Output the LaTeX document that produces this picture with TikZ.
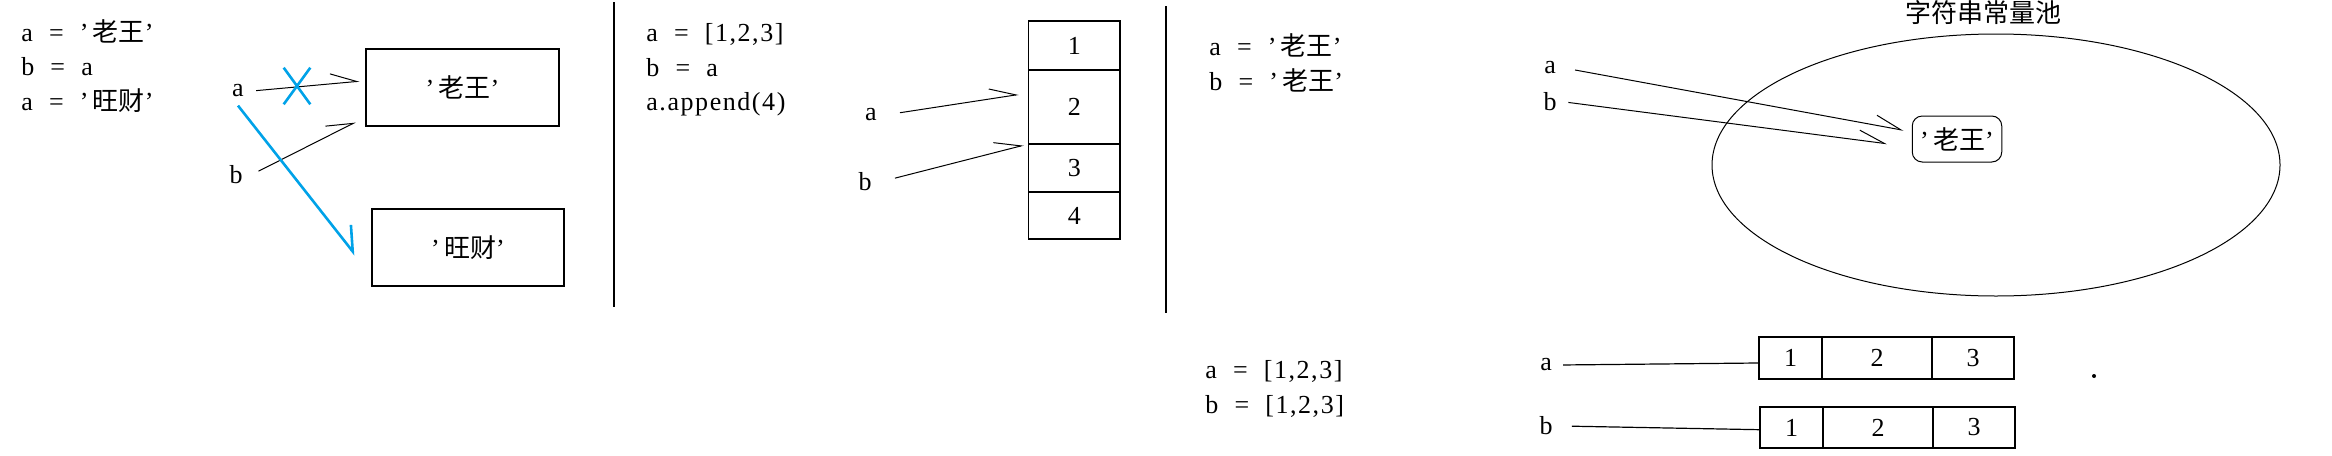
\documentclass[tikz,border=0pt]{standalone}
\usepackage{fontspec}
\setmainfont{Liberation Serif}
\newfontfamily\codefont{Liberation Serif}[WordSpace=2.0, LetterSpace=6.0]
\newfontfamily\cjk{Noto Sans CJK SC}
\usetikzlibrary{positioning, shapes.geometric, shapes.misc, arrows.meta}

\definecolor{paintblue}{RGB}{0,162,232}

\tikzset{
    code/.style={anchor=base west, inner sep=0pt, font=\codefont\fontsize{13pt}{16pt}\selectfont},
    var/.style={inner sep=4pt, font=\fontsize{13pt}{16pt}\selectfont},
    strbox/.style={draw, line width=0.6pt, minimum width=96.5pt, minimum height=38.5pt, font=\fontsize{13pt}{16pt}\selectfont},
    cell/.style={draw, line width=0.6pt, inner sep=0pt, outer sep=0pt, font=\fontsize{13pt}{16pt}\selectfont},
    ptr/.style={line width=0.5pt, -{Straight Barb[harpoon, length=13pt, width=10pt]}},
    blueptr/.style={draw=paintblue, line width=1.3pt, -{Straight Barb[harpoon, length=11pt, width=15pt]}},
}

\begin{document}
\begin{tikzpicture}[x=0.5pt, y=-0.5pt]
    \useasboundingbox (0,0) rectangle (2332,455);

    % rebinding a name
    \node[code] (p1l1) at (21,41) {a = ’\,{\cjk 老王}’};
    \node[code] (p1l2) at (21,75.5) {b = a};
    \node[code] (p1l3) at (21,110) {a = ’\,{\cjk 旺财}’};
    \node[strbox] (wang) at (462.5,87.5) {’\,{\cjk 老王}’};
    \node[strbox, minimum width=96pt] (cai) at (468,247.5) {’\,{\cjk 旺财}’};
    \node[var] (a1) at (238,91) {a};
    \node[var] (b1) at (236,175) {b};
    \draw[ptr, shorten <=2pt, shorten >=3pt] (a1.east) -- (wang.176);
    \draw[ptr, shorten <=4.25pt, shorten >=5.5pt] (b1.east) -- (wang.197.5);
    \node[cross out, draw=paintblue, line width=1.3pt, inner sep=0pt, minimum width=12pt, minimum height=17pt] (xmark) at (297,86) {};
    \draw[blueptr, shorten >=13pt] (a1.south) -- (cai.196.5);

    \draw[line width=0.6pt] (614,2) -- (614,307);

    % list shared by a and b
    \node[code] (p2l1) at (646,41.7) {a = [1,2,3]};
    \node[code] (p2l2) at (646,76) {b = a};
    \node[code] (p2l3) at (646,110) {a.append(4)};
    \node[cell, minimum width=45.75pt, minimum height=24.5pt] (n1) at (1074.25,45.5) {1};
    \node[cell, minimum width=45.75pt, minimum height=37pt, below=0pt of n1] (n2) {2};
    \node[cell, minimum width=45.75pt, minimum height=24pt, below=0pt of n2] (n3) {3};
    \node[cell, minimum width=45.75pt, minimum height=23.5pt, below=0pt of n3] (n4) {4};
    \node[var] (a2) at (871,115) {a};
    \node[var] (b2) at (865,182) {b};
    \draw[ptr, shorten <=7.5pt, shorten >=5pt] (a2.east) -- (n2.163);
    \draw[ptr, shorten <=7.75pt, shorten >=2.5pt] (b2.east) -- (n2.south west);

    \draw[line width=0.6pt] (1166,6) -- (1166,313);

    % string constant pool
    \node[code] (p3l1) at (1209,55) {a = ’\,{\cjk 老王}’};
    \node[code] (p3l2) at (1209,90) {b = ’\,{\cjk 老王}’};
    \node[ellipse, draw, line width=0.5pt, minimum width=284pt, minimum height=131pt] (pool) at (1996,165) {};
    \node[font=\cjk\fontsize{13pt}{16pt}\selectfont] (pooltitle) at (1983,13) {字符串常量池};
    \node[draw, line width=0.5pt, rounded corners=5pt, inner sep=0pt, minimum width=44.75pt, minimum height=23pt, font=\fontsize{13pt}{16pt}\selectfont] (lw) at (1957,139) {’\,{\cjk 老王}’};
    \node[var] (a3) at (1550,68) {a};
    \node[var] (b3) at (1550,102) {b};
    \draw[ptr, shorten <=5.5pt, shorten >=4.25pt] (a3.east) -- (lw.171);
    \draw[ptr, shorten <=1.75pt, shorten >=12.5pt] (b3.east) -- (lw.190);

    % two separate lists
    \node[code] (p4l1) at (1205,378) {a = [1,2,3]};
    \node[code] (p4l2) at (1205,413) {b = [1,2,3]};
    \node[cell, minimum width=31.5pt, minimum height=21pt] (r11) at (1790.5,358) {1};
    \node[cell, minimum width=55pt, minimum height=21pt, right=0pt of r11] (r12) {2};
    \node[cell, minimum width=41pt, minimum height=21pt, right=0pt of r12] (r13) {3};
    \node[cell, minimum width=31.5pt, minimum height=20.5pt] (r21) at (1791.5,427.5) {1};
    \node[cell, minimum width=55pt, minimum height=20.5pt, right=0pt of r21] (r22) {2};
    \node[cell, minimum width=41pt, minimum height=20.5pt, right=0pt of r22] (r23) {3};
    \node[var] (a4) at (1546,365) {a};
    \node[var] (b4) at (1546,426) {b};
    \draw[line width=0.6pt, shorten <=1.5pt] (a4.east) -- (r11.189);
    \draw[line width=0.6pt, shorten <=5.5pt] (b4.east) -- (r21.184.5);
    \fill (2094,376) circle[radius=1pt];
\end{tikzpicture}
\end{document}
